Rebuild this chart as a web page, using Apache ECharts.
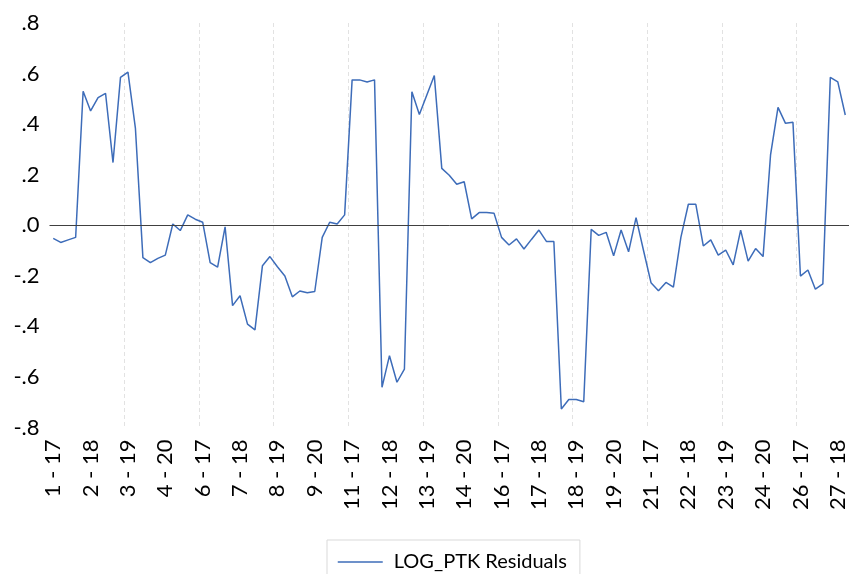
<!DOCTYPE html>
<html>
<head>
<meta charset="utf-8">
<title>LOG_PTK Residuals</title>
<script src="https://cdn.jsdelivr.net/npm/echarts@6/dist/echarts.min.js"></script>
<style>
  html, body { margin: 0; padding: 0; background: #fff; }
  #chart { width: 849px; height: 574px; }
</style>
</head>
<body>
<div id="chart"></div>
<script>
// panel ids and years -> "id - yy" labels
const sections = [1, 2, 3, 4, 5, 6, 7, 8, 9, 10, 11, 12, 13, 14, 15, 16, 17, 18, 19, 20, 21, 22, 23, 24, 25, 26, 27];
const years = ['17', '18', '19', '20'];

// residuals
const residuals = [
  -0.052, -0.068, -0.058, -0.048, 0.530, 0.452, 0.505, 0.522, 0.248, 0.585,
  0.606, 0.383, -0.128, -0.148, -0.131, -0.118, 0.005, -0.021, 0.041, 0.024,
  0.012, -0.148, -0.166, -0.006, -0.318, -0.279, -0.391, -0.414, -0.160, -0.124,
  -0.164, -0.201, -0.283, -0.260, -0.267, -0.262, -0.048, 0.012, 0.005, 0.041,
  0.575, 0.575, 0.567, 0.575, -0.641, -0.516, -0.621, -0.569, 0.528, 0.438,
  0.515, 0.592, 0.225, 0.198, 0.162, 0.172, 0.025, 0.050, 0.050, 0.047,
  -0.048, -0.078, -0.054, -0.094, -0.056, -0.019, -0.064, -0.064, -0.727, -0.689,
  -0.689, -0.698, -0.016, -0.040, -0.028, -0.121, -0.019, -0.105, 0.030, -0.100,
  -0.227, -0.259, -0.226, -0.245, -0.048, 0.083, 0.083, -0.082, -0.058, -0.118,
  -0.098, -0.157, -0.019, -0.142, -0.092, -0.124, 0.278, 0.466, 0.403, 0.407,
  -0.201, -0.177, -0.253, -0.232, 0.585, 0.567, 0.436
];

const categories = sections
  .flatMap(s => years.map(y => s + ' - ' + y))
  .slice(0, residuals.length);

const font = 'Lato';
const lineColor = '#3d6cb9';
const chart = echarts.init(document.getElementById('chart'));

const option = {
  backgroundColor: '#fff',
  animation: false,
  grid: { left: 49.5, right: -3.8, top: 23, bottom: 146.5 },
  legend: {
    left: 327,
    top: 540,
    padding: [12, 13, 12, 10],
    borderColor: '#d9d9d9',
    borderWidth: 1,
    itemWidth: 45,
    itemHeight: 20,
    // hide the circle that line series put in the legend icon
    itemStyle: { opacity: 0 },
    lineStyle: { color: lineColor, width: 1.5 },
    textStyle: { fontFamily: font, fontSize: 20, color: '#000', padding: [0, 0, 0, 6] },
    data: ['LOG_PTK Residuals']
  },
  xAxis: {
    type: 'category',
    data: categories,
    boundaryGap: true,
    axisLine: { show: false },
    axisTick: { show: false },
    axisLabel: {
      interval: 4,
      rotate: 90,
      margin: 12,
      fontFamily: font,
      fontSize: 22,
      color: '#000'
    },
    // dashed verticals every 10 obs
    splitLine: {
      show: true,
      interval: function (index) { return index > 0 && index % 10 === 0; },
      lineStyle: { color: '#e2e2e2', type: [4, 3], width: 1 }
    }
  },
  yAxis: {
    type: 'value',
    min: -0.8,
    max: 0.8,
    interval: 0.2,
    axisLine: { show: false },
    axisTick: { show: false },
    splitLine: { show: false },
    axisLabel: {
      margin: 10,
      fontFamily: font,
      fontSize: 22,
      color: '#000',
      formatter: function (v) {
        const n = Math.round(Math.abs(v) * 10);
        return (v < -1e-9 ? '-' : '') + '.' + n;
      }
    }
  },
  series: [
    {
      name: 'LOG_PTK Residuals',
      type: 'line',
      data: residuals,
      symbol: 'none',
      lineStyle: { color: lineColor, width: 1.5 },
      itemStyle: { color: lineColor },
      // zero line
      markLine: {
        silent: true,
        symbol: 'none',
        label: { show: false },
        lineStyle: { color: '#404040', type: 'solid', width: 1 },
        data: [{ yAxis: 0 }]
      }
    }
  ]
};

chart.setOption(option);
</script>
</body>
</html>
